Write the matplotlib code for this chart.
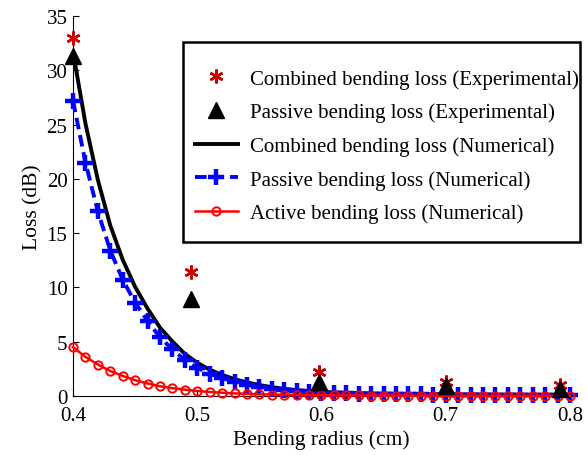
import numpy as np
import matplotlib
matplotlib.use("Agg")
import matplotlib.pyplot as plt
from matplotlib.patches import Rectangle

# Bending radius grid of the numerical model (cm)
radius = [0.40, 0.41, 0.42, 0.43, 0.44, 0.45, 0.46, 0.47, 0.48, 0.49,
          0.50, 0.51, 0.52, 0.53, 0.54, 0.55, 0.56, 0.57, 0.58, 0.59,
          0.60, 0.61, 0.62, 0.63, 0.64, 0.65, 0.66, 0.67, 0.68, 0.69,
          0.70, 0.71, 0.72, 0.73, 0.74, 0.75, 0.76, 0.77, 0.78, 0.79, 0.80]

# Numerical losses (dB)
passive_num = [27.2, 21.5, 17.0, 13.4, 10.7, 8.6, 6.9, 5.4, 4.3, 3.3,
               2.6, 2.05, 1.65, 1.3, 1.05, 0.85, 0.68, 0.55, 0.45, 0.37,
               0.31, 0.27, 0.24, 0.21, 0.19, 0.17, 0.16, 0.15, 0.14, 0.13,
               0.12, 0.12, 0.11, 0.11, 0.10, 0.10, 0.10, 0.09, 0.09, 0.09, 0.09]
active_num = [4.5, 3.6, 2.9, 2.3, 1.85, 1.45, 1.15, 0.9, 0.72, 0.58,
              0.46, 0.37, 0.30, 0.24, 0.20, 0.16, 0.13, 0.11, 0.09, 0.08,
              0.07, 0.06, 0.05, 0.05, 0.04, 0.04, 0.04, 0.03, 0.03, 0.03,
              0.03, 0.03, 0.03, 0.02, 0.02, 0.02, 0.02, 0.02, 0.02, 0.02, 0.02]
combined_num = [31.7, 25.1, 19.9, 15.7, 12.55, 10.05, 8.05, 6.3, 5.02, 3.88,
                3.06, 2.42, 1.95, 1.54, 1.25, 1.01, 0.81, 0.66, 0.54, 0.45,
                0.38, 0.33, 0.29, 0.26, 0.23, 0.21, 0.20, 0.18, 0.17, 0.16,
                0.15, 0.15, 0.14, 0.13, 0.12, 0.12, 0.12, 0.11, 0.11, 0.11, 0.11]

# Measured points
radius_exp = [0.400, 0.495, 0.598, 0.700, 0.792]
combined_exp = [33.0, 11.4, 2.2, 1.25, 1.05]
passive_exp = [31.3, 8.9, 1.3, 0.95, 0.65]

xticks = [0.4, 0.5, 0.6, 0.7, 0.8]
yticks = [0, 5, 10, 15, 20, 25, 30, 35]

plt.rcParams["font.family"] = ["Liberation Serif", "DejaVu Serif"]

fig = plt.figure(figsize=(5.87, 4.56), dpi=100)
ax = fig.add_axes([0.1244, 0.1294, 0.8466, 0.8333])

h_comb_num, = ax.plot(radius, combined_num, color="black", lw=2.8,
                      zorder=2, label="Combined bending loss (Numerical)")
h_pass_num, = ax.plot(radius, passive_num, color="#0000ff", lw=2.8,
                      ls=(0, (3, 1.5)), marker="+", ms=11, mew=3.2,
                      zorder=3, clip_on=False,
                      label="Passive bending loss (Numerical)")
h_act_num, = ax.plot(radius, active_num, color="#ff0000", lw=1.8,
                     marker="o", ms=6, mfc="none", mew=1.4,
                     zorder=4, clip_on=False,
                     label="Active bending loss (Numerical)")
h_comb_exp, = ax.plot(radius_exp, combined_exp, ls="none", marker=(6, 2, 0),
                      ms=10, mew=1.8, color="#cc0000", zorder=5, clip_on=False,
                      label="Combined bending loss (Experimental)")
h_pass_exp, = ax.plot(radius_exp, passive_exp, ls="none", marker="^",
                      ms=11, color="black", zorder=6, clip_on=False,
                      label="Passive bending loss (Experimental)")

ax.set_xlim(0.4, 0.8)
ax.set_ylim(0, 35)
ax.set_xticks(xticks)
ax.set_xticklabels([f"{t:.1f}" for t in xticks])
ax.set_yticks(yticks)
ax.tick_params(direction="in", length=4, labelsize=15, width=0.8)
ax.tick_params(axis="x", pad=7)
ax.tick_params(axis="y", pad=4)
ax.spines["top"].set_visible(False)
ax.spines["right"].set_visible(False)
ax.set_xlabel("Bending radius (cm)", fontsize=15.5, labelpad=3)
ax.set_ylabel("Loss (dB)", fontsize=15.5, labelpad=3)

# legend entries without a frame; the box around them is drawn separately
leg = fig.legend(handles=[h_comb_exp, h_pass_exp, h_comb_num, h_pass_num, h_act_num],
                 loc="upper left", bbox_to_anchor=(0.332, 0.847),
                 fontsize=15, frameon=False, borderpad=0, borderaxespad=0,
                 handlelength=2.07, labelspacing=0.67,
                 handletextpad=0.58, numpoints=1)
fig.add_artist(Rectangle((0.3118, 0.4671), 0.6763, 0.4386,
                         transform=fig.transFigure, fill=True, facecolor="white",
                         edgecolor="black", lw=1.8, zorder=leg.get_zorder() - 0.5))

fig.savefig("out.png", dpi=100)
